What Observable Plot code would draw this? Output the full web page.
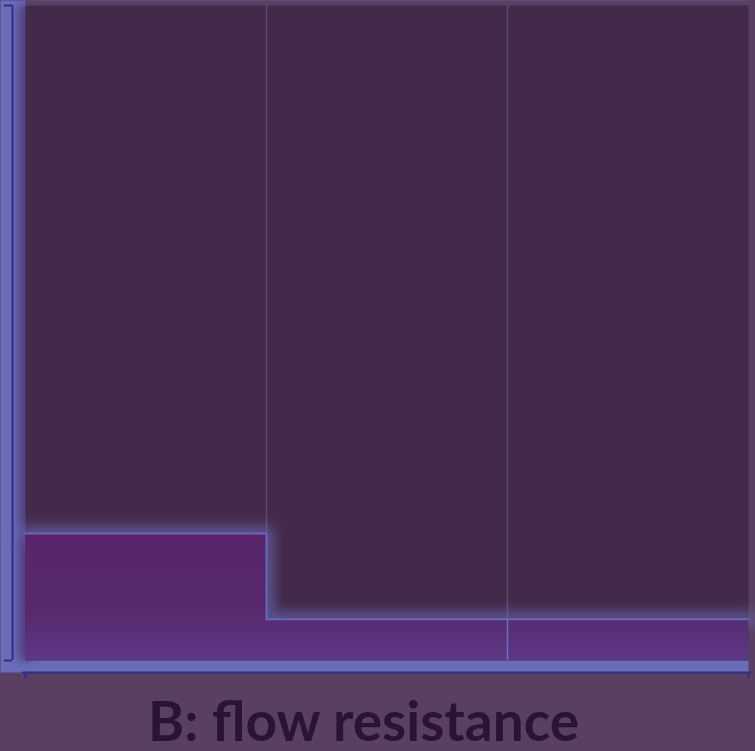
<!DOCTYPE html>
<html>
<head>
<meta charset="utf-8">
<script src="https://cdn.jsdelivr.net/npm/d3@7"></script>
<script src="https://cdn.jsdelivr.net/npm/@observablehq/plot@0.6"></script>
<style>
  html, body { margin: 0; padding: 0; background: #594062; width: 755px; height: 751px; overflow: hidden; position: relative; }
  #chart svg { display: block; background: #594062; }
  #title { position: absolute; left: 148px; top: 698px; font-family: Lato, "Open Sans", sans-serif; font-weight: bold;
           font-size: 55px; line-height: 44px; color: #2a1433; white-space: nowrap; filter: blur(0.4px); }
</style>
</head>
<body>
<div id="chart"></div>
<div id="title">B: flow resistance</div>
<script>
// data
const stage = [0, 1, 2, 3];
const flowResistance = [0.194, 0.063, 0.063, 0.063];
const gridTicks = [1, 2];
const innerRule = [2];

const rows = stage.map((s, i) => ({stage: s, value: flowResistance[i]}));
const innerRows = rows.filter(d => innerRule.includes(d.stage));

const blue = "#6a6cb8";
const axisBlue = "#2c2f8a";

const plot = Plot.plot({
  width: 755,
  height: 680,
  marginLeft: 25,
  marginRight: 7,
  marginTop: 5,
  marginBottom: 20,
  x: {domain: [0, 3]},
  y: {domain: [0, 1]},
  marks: [
    Plot.frame({fill: blue, stroke: null, insetLeft: -25, insetBottom: -12, insetTop: -5}),
    Plot.frame({fill: "#594062", stroke: null, insetLeft: 0, insetBottom: 20, insetTop: -5, insetRight: -7}),
    Plot.ruleX([0], {y1: 0, y2: 1, stroke: "#503e7e", strokeWidth: 14, ariaDescription: "glowsoft"}),
    Plot.frame({fill: "#432a4a", stroke: null}),
    Plot.ruleX(gridTicks, {stroke: "#5c4a72", strokeWidth: 1.5}),
    Plot.lineY(rows, {x: "stage", y: "value", curve: "step-after", stroke: blue, strokeWidth: 16, strokeOpacity: 0.6, ariaDescription: "glow"}),
    Plot.areaY(rows, {x: "stage", y: "value", curve: "step-after", fill: "url(#fillGrad)"}),
    Plot.lineY(rows, {x: "stage", y: "value", curve: "step-after", stroke: "#6468b8", strokeWidth: 2}),
    Plot.ruleX(innerRows, {x: "stage", y1: 0, y2: "value", stroke: "#6a70c0", strokeWidth: 1.5}),
    Plot.ruleX([0], {y1: 0, y2: 1, dx: -13, stroke: axisBlue, strokeWidth: 2}),
    Plot.axisY({ticks: [0, 1], tickSize: 8, tickFormat: () => "", label: null, dx: -13, stroke: axisBlue, strokeWidth: 2}),
    Plot.ruleY([0], {dy: 12, insetLeft: -3, insetRight: -3, stroke: axisBlue, strokeWidth: 2}),
    Plot.axisX({ticks: [0, 3], tickSize: 6, tickFormat: () => "", label: null, dy: 12, stroke: axisBlue, strokeWidth: 2})
  ]
});

const ns = "http://www.w3.org/2000/svg";
const defs = document.createElementNS(ns, "defs");
defs.innerHTML = `
  <linearGradient id="fillGrad" x1="0" y1="0" x2="0" y2="1">
    <stop offset="0%" stop-color="#5e2268"/>
    <stop offset="12%" stop-color="#58276b"/>
    <stop offset="60%" stop-color="#57286c"/>
    <stop offset="100%" stop-color="#5e3888"/>
  </linearGradient>
  <filter id="blurGlow" filterUnits="userSpaceOnUse" x="-50" y="-50" width="860" height="780">
    <feGaussianBlur stdDeviation="6"/>
  </filter>
  <filter id="blurSoft" filterUnits="userSpaceOnUse" x="-50" y="-50" width="860" height="780">
    <feGaussianBlur stdDeviation="4"/>
  </filter>`;
plot.insertBefore(defs, plot.firstChild);
plot.querySelectorAll('[aria-description="glow"]').forEach(g => g.setAttribute("filter", "url(#blurGlow)"));
plot.querySelectorAll('[aria-description="glowsoft"]').forEach(g => g.setAttribute("filter", "url(#blurSoft)"));

document.getElementById("chart").appendChild(plot);
</script>
</body>
</html>
